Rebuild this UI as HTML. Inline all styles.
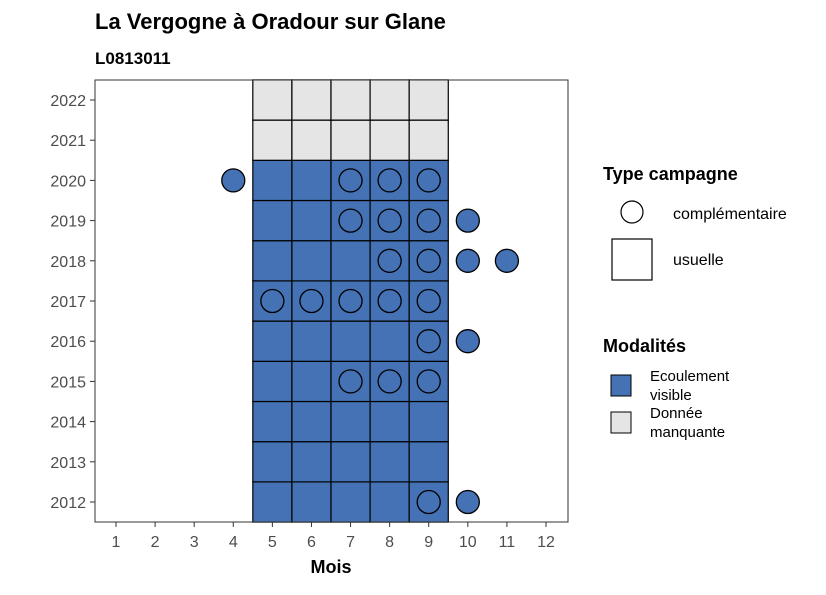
<!DOCTYPE html>
<html><head><meta charset="utf-8"><style>
body{margin:0;background:#fff;font-family:"Liberation Sans",sans-serif;}
</style></head><body>
<svg id="chart" width="826" height="590" xmlns="http://www.w3.org/2000/svg" font-family="Liberation Sans, sans-serif">
<text x="95" y="29" font-size="22" font-weight="bold">La Vergogne à Oradour sur Glane</text>
<text x="95" y="64" font-size="17" font-weight="bold">L0813011</text>
<g id="tiles"></g>
<g id="points"></g>
<rect x="95" y="80" width="473" height="442" fill="none" stroke="#333" stroke-width="1"/>
<g id="axes"></g>
<text x="331" y="573" font-size="18" font-weight="bold" text-anchor="middle">Mois</text>
<g>
<text x="603" y="180" font-size="18" font-weight="bold">Type campagne</text>
<circle cx="632" cy="212" r="11" fill="#fff" stroke="#000" stroke-width="1.2"/>
<text x="673" y="219" font-size="16">complémentaire</text>
<rect x="612" y="239" width="40" height="41" fill="#fff" stroke="#000" stroke-width="1.2"/>
<text x="673" y="265" font-size="16">usuelle</text>
</g>
<g>
<text x="603" y="352" font-size="18" font-weight="bold">Modalités</text>
<rect x="611" y="375" width="20" height="21" fill="#4472b4" stroke="#000"/>
<text x="650" y="381" font-size="15">Ecoulement</text>
<text x="650" y="400" font-size="15">visible</text>
<rect x="611" y="412" width="20" height="21" fill="#e5e5e5" stroke="#000"/>
<text x="650" y="418" font-size="15">Donnée</text>
<text x="650" y="437" font-size="15">manquante</text>
</g>
</svg>
<script>
const months=[1,2,3,4,5,6,7,8,9,10,11,12];
const years=[2012,2013,2014,2015,2016,2017,2018,2019,2020,2021,2022];
const tileMonths=[5,6,7,8,9];
const tileYears=[2012,2013,2014,2015,2016,2017,2018,2019,2020,2021,2022];
const tileStatus=["v","v","v","v","v","v","v","v","v","m","m"];
const pointMonths=[4,7,8,9, 7,8,9,10, 8,9,10,11, 5,6,7,8,9, 9,10, 7,8,9, 9,10];
const pointYears=[2020,2020,2020,2020, 2019,2019,2019,2019, 2018,2018,2018,2018, 2017,2017,2017,2017,2017, 2016,2016, 2015,2015,2015, 2012,2012];
const NS="http://www.w3.org/2000/svg";
const x=m=>116+(m-1)*(546-116)/11;
const y=yr=>502-(yr-2012)*(502-100)/10;
const cw=(546-116)/11, ch=(502-100)/10;
const tg=document.getElementById('tiles');
tileYears.forEach((yr,i)=>{tileMonths.forEach(m=>{
 const r=document.createElementNS(NS,'rect');
 r.setAttribute('x',x(m)-cw/2);r.setAttribute('y',y(yr)-ch/2);
 r.setAttribute('width',cw);r.setAttribute('height',ch);
 r.setAttribute('fill',tileStatus[i]==="v"?"#4472b4":"#e5e5e5");
 r.setAttribute('stroke','#000');r.setAttribute('stroke-width','1.2');
 
 
 tg.appendChild(r);});});
const pg=document.getElementById('points');
pointMonths.forEach((m,i)=>{
 const c=document.createElementNS(NS,'circle');
 c.setAttribute('cx',x(m));c.setAttribute('cy',y(pointYears[i]));c.setAttribute('r',11.5);
 c.setAttribute('fill','#4472b4');c.setAttribute('stroke','#000');c.setAttribute('stroke-width','1.3');
 
 
 pg.appendChild(c);});
const ag=document.getElementById('axes');
months.forEach(m=>{
 const l=document.createElementNS(NS,'line');
 l.setAttribute('x1',x(m));l.setAttribute('x2',x(m));l.setAttribute('y1',522);l.setAttribute('y2',527);l.setAttribute('stroke','#333');
 
 
 ag.appendChild(l);
 const t=document.createElementNS(NS,'text');
 t.setAttribute('x',x(m));t.setAttribute('y',547);t.setAttribute('font-size','16');t.setAttribute('fill','#4d4d4d');t.setAttribute('text-anchor','middle');
 t.textContent=m;
 
 
 ag.appendChild(t);});
years.forEach(yr=>{
 const l=document.createElementNS(NS,'line');
 l.setAttribute('x1',90);l.setAttribute('x2',95);l.setAttribute('y1',y(yr));l.setAttribute('y2',y(yr));l.setAttribute('stroke','#333');
 
 
 ag.appendChild(l);
 const t=document.createElementNS(NS,'text');
 t.setAttribute('x',86);t.setAttribute('y',y(yr)+6);t.setAttribute('font-size','16');t.setAttribute('fill','#4d4d4d');t.setAttribute('text-anchor','end');
 t.textContent=yr;
 
 
 ag.appendChild(t);});
</script>
</body></html>
